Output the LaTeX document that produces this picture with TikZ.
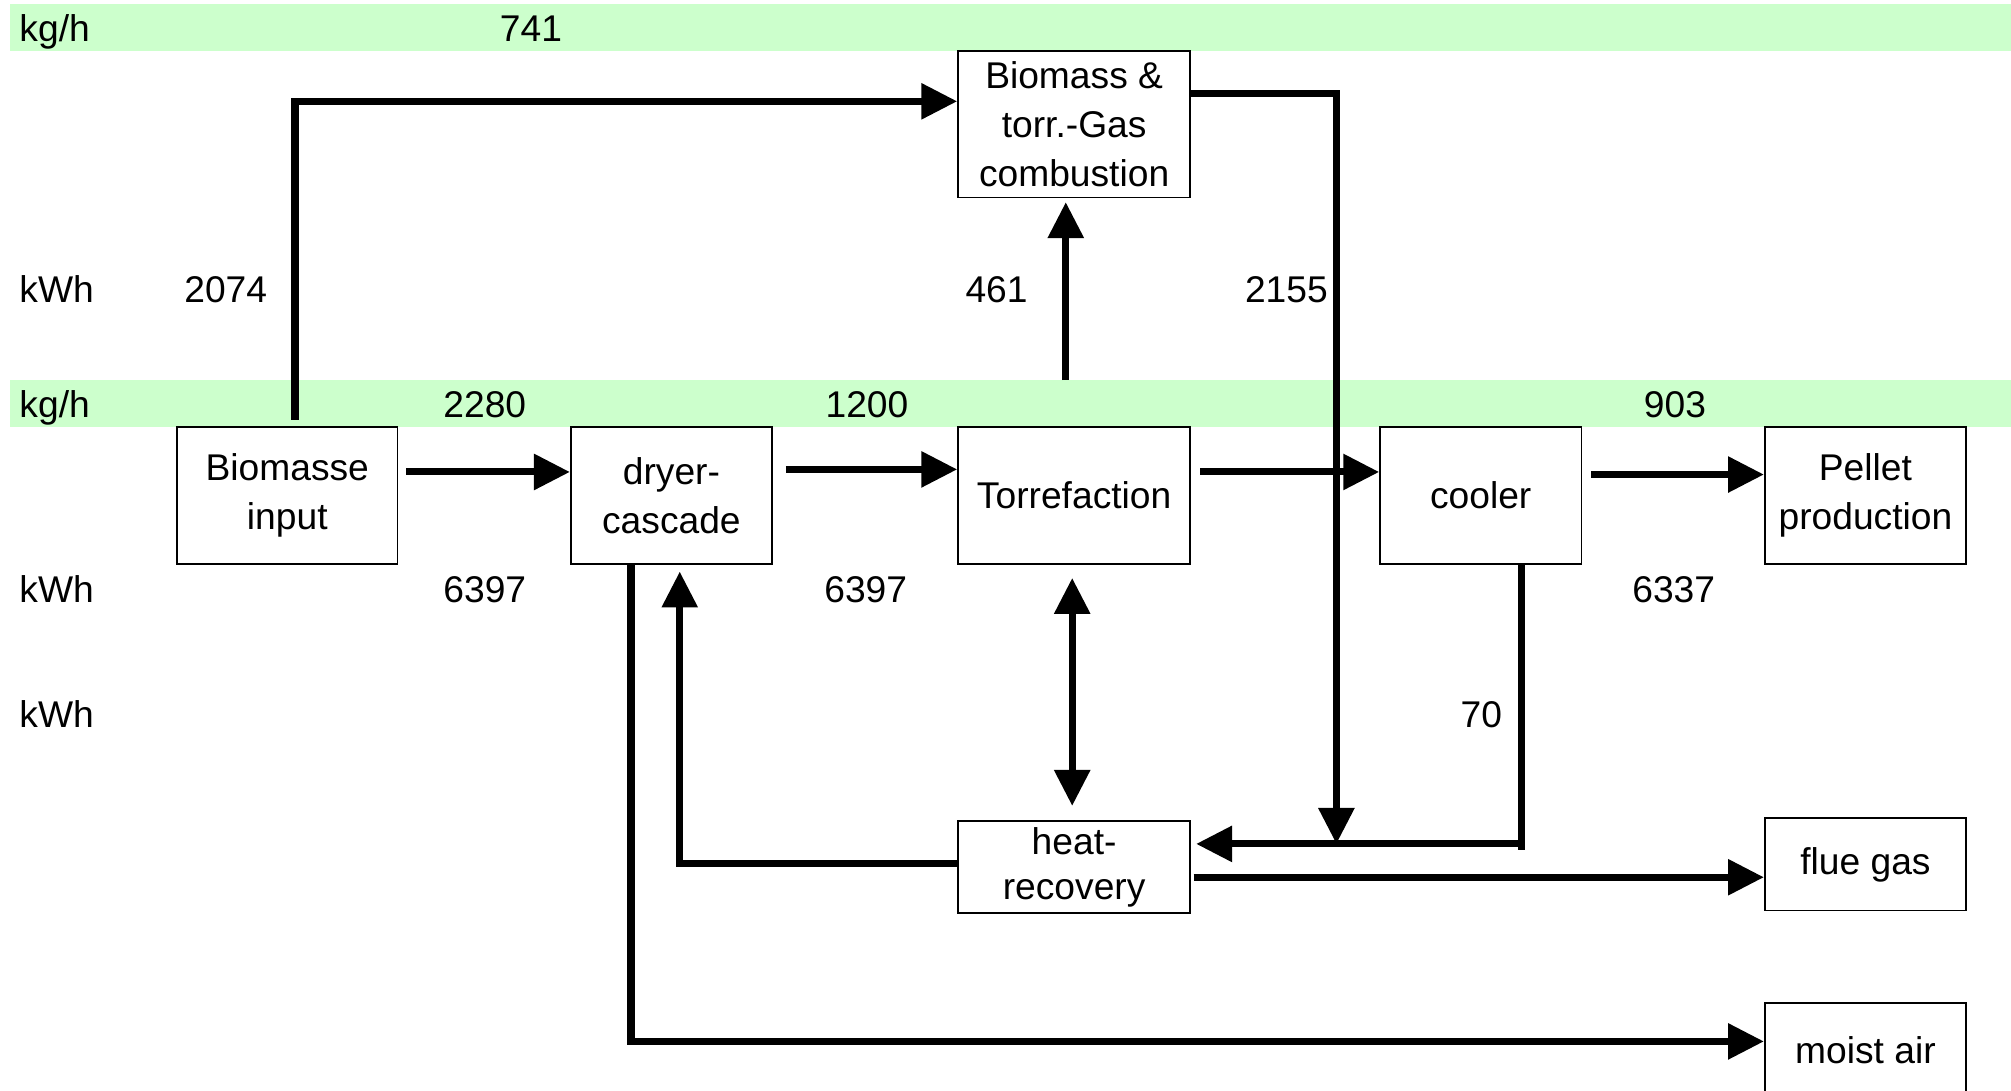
\documentclass[tikz,border=0pt]{standalone}
\usepackage{fontspec}
\setmainfont{Liberation Sans}
\usetikzlibrary{arrows.meta}
\definecolor{band}{RGB}{204,255,204}
\begin{document}
\begin{tikzpicture}[x=1pt,y=-1pt,
  box/.style={draw, line width=1.3pt, fill=white, align=center, inner sep=0pt,
    font=\fontsize{29}{38}\selectfont},
  lbl/.style={anchor=base, inner sep=0pt, font=\fontsize{29}{36}\selectfont},
  unit/.style={anchor=base west, inner sep=0pt, font=\fontsize{29}{36}\selectfont},
  flow/.style={line width=5.5pt, -{Triangle[length=28pt,width=27pt]}},
  flowtwo/.style={line width=5.5pt, {Triangle[length=28pt,width=27pt]}-{Triangle[length=28pt,width=27pt]}}]
\useasboundingbox (0,0) rectangle (1568,850);
\clip (0,0) rectangle (1568,850);
% bands
\fill[band] (8,3) rectangle (1568,40);
\fill[band] (8,296) rectangle (1568,333);
% unit labels
\node[unit] (u1) at (15,32.5) {kg/h};
\node[unit] (u2) at (15,235.5) {kWh};
\node[unit] (u3) at (15,325.5) {kg/h};
\node[unit] (u4) at (15,469.5) {kWh};
\node[unit] (u5) at (15,567.5) {kWh};
% numbers
\node[lbl] (n741) at (414,32.5) {741};
\node[lbl] (n2074) at (176,235.5) {2074};
\node[lbl] (n461) at (777,235.5) {461};
\node[lbl] (n2155) at (1003,235.5) {2155};
\node[lbl] (n2280) at (378,325.5) {2280};
\node[lbl] (n1200) at (676,325.5) {1200};
\node[lbl] (n903) at (1306,325.5) {903};
\node[lbl] (n6397a) at (378,469.5) {6397};
\node[lbl] (n6397b) at (675,469.5) {6397};
\node[lbl] (n6337) at (1305,469.5) {6337};
\node[lbl] (n70) at (1155,567.5) {70};
% boxes
\node[box, minimum width=181pt, minimum height=114pt] (comb) at (837.5,97) {Biomass \&\\torr.-Gas\\combustion};
\node[box, minimum width=172pt, minimum height=107pt] (inp) at (224,386.5) {Biomasse\\input};
\node[box, minimum width=157pt, minimum height=107pt] (dry) at (523.5,386.5) {dryer-\\cascade};
\node[box, minimum width=181pt, minimum height=107pt] (tor) at (837.5,386.5) {Torrefaction};
\node[box, minimum width=157pt, minimum height=107pt] (cool) at (1154.5,386.5) {cooler};
\node[box, minimum width=157pt, minimum height=107pt] (pel) at (1454.5,386.5) {Pellet\\production};
\node[box, minimum width=181pt, minimum height=72pt, font=\fontsize{29}{35}\selectfont] (heat) at (837.5,676) {heat-\\recovery};
\node[box, minimum width=157pt, minimum height=72pt] (flue) at (1454.5,674) {flue gas};
\node[box, minimum width=157pt, minimum height=74pt] (moist) at (1454.5,819) {moist air};
\coordinate (j) at (1042,658);
% connectors
\draw[flow] ([xshift=6pt,yshift=5pt]inp.north) |- ([yshift=18pt]comb.west);
\draw[flow] ([xshift=6pt,yshift=18.5pt]inp.east) -- ([yshift=18.5pt]dry.west);
\draw[flow] ([xshift=10pt,yshift=20.5pt]dry.east) -- ([yshift=20.5pt]tor.west);
\draw[flow] ([xshift=-6.5pt,yshift=36pt]tor.north) -- ([xshift=-6.5pt,yshift=-3pt]comb.south);
\draw[flow] ([yshift=24pt]comb.east) -| (j);
\draw[flow] ([xshift=7pt,yshift=18.5pt]tor.east) -- ([yshift=18.5pt]cool.west);
\draw[flow] ([xshift=7pt,yshift=16.5pt]cool.east) -- ([yshift=16.5pt]pel.west);
\draw[flow, shorten >=4pt] ([xshift=31.5pt]cool.south) -- ++(0,222) |- ([yshift=18pt]heat.east);
\draw[flowtwo, shorten <=10pt, shorten >=11pt] ([xshift=-1.5pt]tor.south) -- ([xshift=-1.5pt]heat.north);
\draw[flow, shorten >=5pt] ([yshift=3pt]heat.west) -| ([xshift=6.5pt]dry.south);
\draw[flow] ([xshift=2pt,yshift=-8pt]heat.east) -- ([yshift=-10pt]flue.west);
\draw[flow] ([xshift=-31.5pt]dry.south) |- ([yshift=7pt]moist.west);
\end{tikzpicture}
\end{document}
